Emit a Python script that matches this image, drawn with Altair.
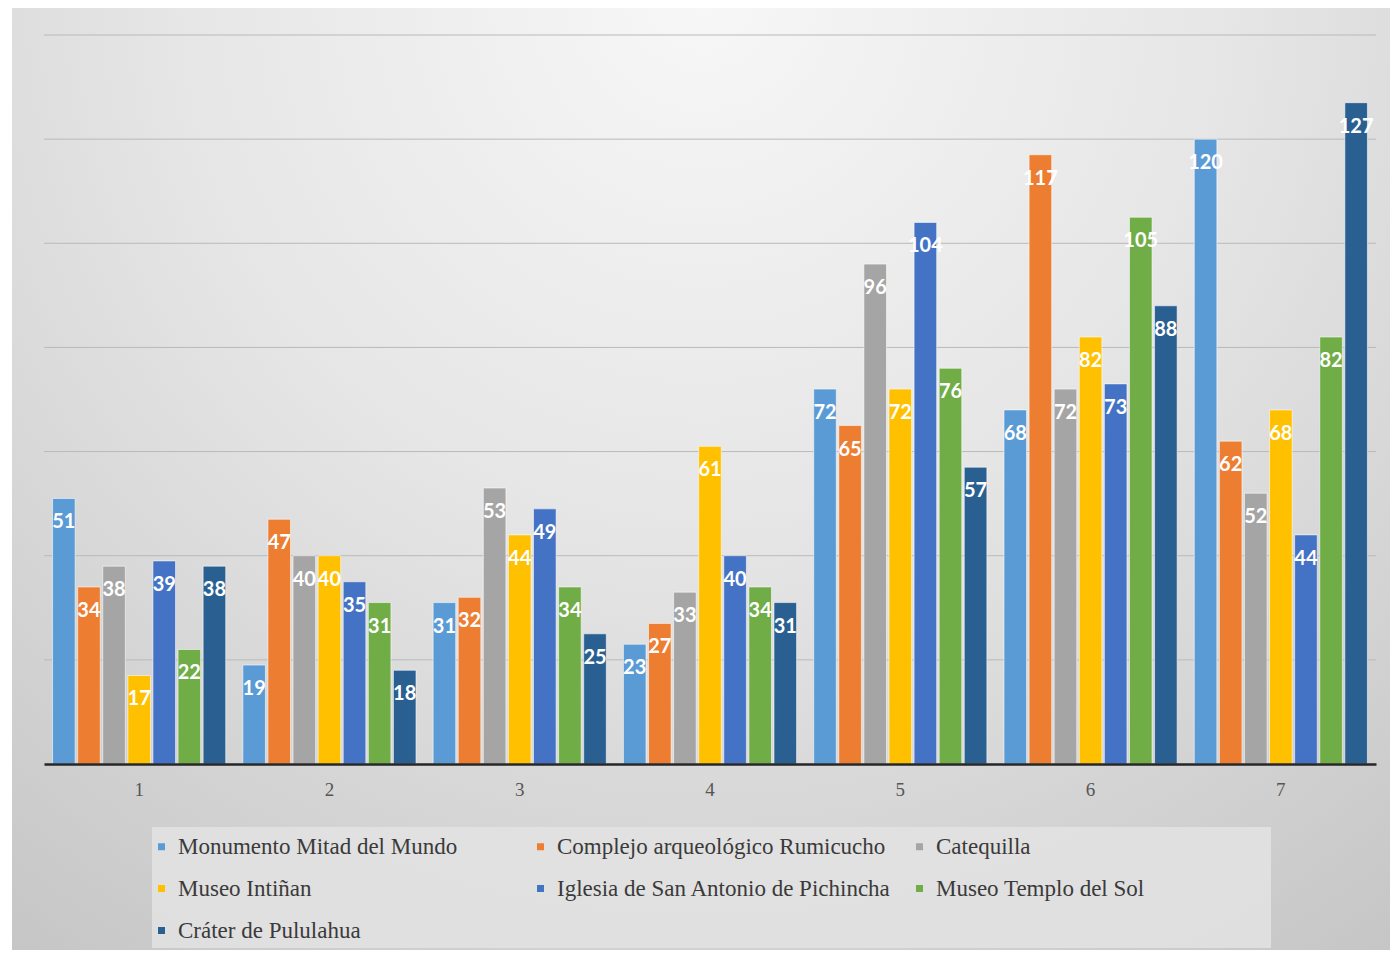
import altair as alt
import pandas as pd

grupos = ["1", "2", "3", "4", "5", "6", "7"]
sitios = [
    "Monumento Mitad del Mundo",
    "Complejo arqueológico Rumicucho",
    "Catequilla",
    "Museo Intiñan",
    "Iglesia de San Antonio de Pichincha",
    "Museo Templo del Sol",
    "Cráter de Pululahua",
]
colores = ["#5B9BD5", "#ED7D31", "#A5A5A5", "#FFC000", "#4472C4", "#70AD47", "#2A5F92"]

monumento = [51, 19, 31, 23, 72, 68, 120]
rumicucho = [34, 47, 32, 27, 65, 117, 62]
catequilla = [38, 40, 53, 33, 96, 72, 52]
intinan = [17, 40, 44, 61, 72, 82, 68]
iglesia = [39, 35, 49, 40, 104, 73, 44]
templo = [22, 31, 34, 34, 76, 105, 82]
pululahua = [38, 18, 25, 31, 57, 88, 127]

series = [monumento, rumicucho, catequilla, intinan, iglesia, templo, pululahua]
grid_ticks = [20, 40, 60, 80, 100, 120, 140]

rows = []
for nombre, vals in zip(sitios, series):
    for g, v in zip(grupos, vals):
        rows.append({"grupo": g, "sitio": nombre, "valor": v})
df = pd.DataFrame(rows)

W, H = 1332, 729
yscale = alt.Scale(domain=[0, 140], nice=False, zero=True)

bg_grad = alt.Gradient(
    gradient="radial",
    x1=0.5, y1=0.15, x2=0.5, y2=0.15, r1=0, r2=0.85,
    stops=[
        alt.GradientStop(color="#f7f7f7", offset=0),
        alt.GradientStop(color="#e6e6e6", offset=0.45),
        alt.GradientStop(color="#c6c6c6", offset=1),
    ],
)

bg = alt.Chart(pd.DataFrame({"a": [0]})).mark_rect(fill=bg_grad).encode(
    x=alt.value(-32), x2=alt.value(W + 14), y=alt.value(-27), y2=alt.value(H + 186)
)

legend_box = alt.Chart(pd.DataFrame({"a": [0]})).mark_rect(
    fill="#e3e3e3", opacity=0.85
).encode(x=alt.value(108), x2=alt.value(1227), y=alt.value(792), y2=alt.value(913))

grid = alt.Chart(pd.DataFrame({"v": grid_ticks})).mark_rule(
    color="#b9b9b9", strokeWidth=1
).encode(y=alt.Y("v:Q", scale=yscale, axis=None))

xenc = alt.X(
    "grupo:N",
    sort=grupos,
    scale=alt.Scale(paddingInner=0.09, paddingOuter=0.045),
    axis=alt.Axis(
        title=None, labelAngle=0, ticks=False, labelPadding=16,
        labelFont="Liberation Serif", labelFontSize=19, labelColor="#555555",
        domainColor="#262626", domainWidth=2.5, zindex=1, grid=False,
    ),
)
xoff = alt.XOffset("sitio:N", sort=sitios, scale=alt.Scale(domain=sitios, paddingInner=0.1))

bars = alt.Chart(df).mark_bar(stroke="#ffffff", strokeWidth=0.8, strokeOpacity=0.7).encode(
    x=xenc,
    xOffset=xoff,
    y=alt.Y("valor:Q", scale=yscale, axis=None),
    color=alt.Color(
        "sitio:N",
        sort=sitios,
        scale=alt.Scale(domain=sitios, range=colores),
        legend=alt.Legend(
            title=None, orient="none", legendX=106, legendY=800, columns=3,
            direction="horizontal",
            gridAlign="all", columnPadding=16, rowPadding=18,
            symbolType="square", symbolSize=49, symbolStrokeWidth=0,
            labelFont="Liberation Serif", labelFontSize=23, labelColor="#3a3a3a",
            labelOffset=5, labelLimit=500, zindex=1,
        ),
    ),
)

labels = alt.Chart(df).mark_text(
    color="white", font="Lato", fontSize=20, fontWeight="bold", baseline="middle", dy=24
).encode(
    x=alt.X("grupo:N", sort=grupos),
    xOffset=xoff,
    y=alt.Y("valor:Q", scale=yscale),
    text=alt.Text("valor:Q"),
)

chart = alt.layer(bg, legend_box, grid, bars, labels).properties(
    width=W, height=H,
    padding={"left": 36, "top": 27, "right": 14, "bottom": 186},
    autosize="none",
).configure_view(stroke=None).configure(background="#ffffff")

chart.save("out.html", embed_options={"renderer": "svg", "actions": False})
